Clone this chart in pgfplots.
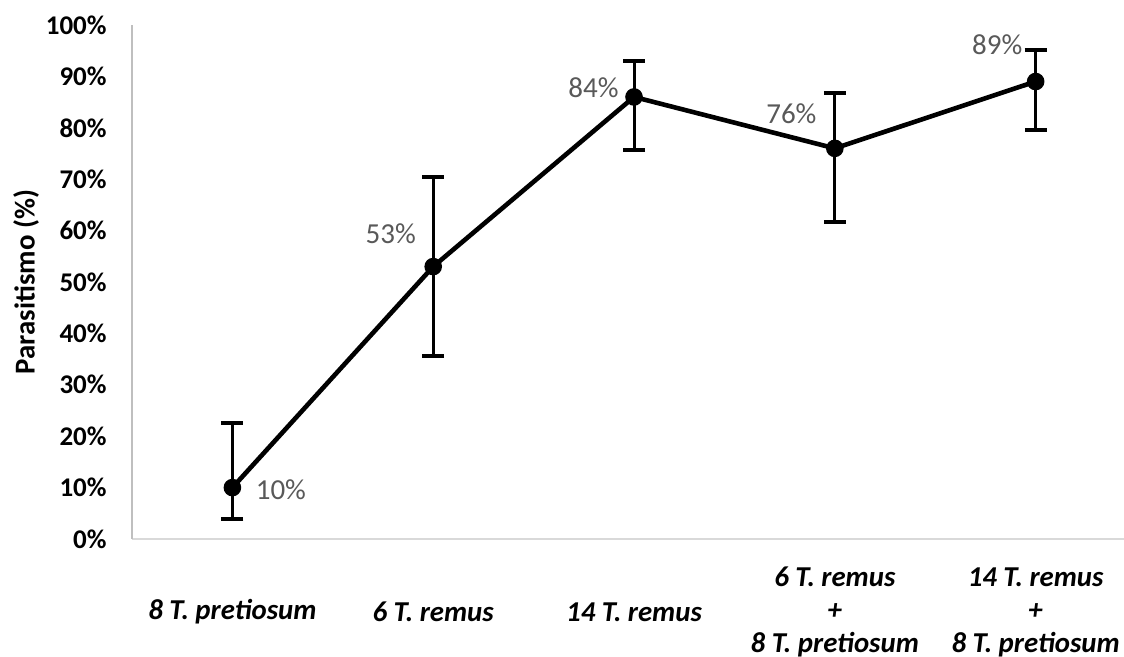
\documentclass[border=0pt]{standalone}
\usepackage{pgfplots}
\usepackage{pgfplotstable}
\pgfplotsset{compat=1.18}
\usepackage{fontspec}
\setmainfont{Carlito}
\definecolor{lbl}{HTML}{595959}
\definecolor{yax}{HTML}{BFBFBF}
\definecolor{xax}{HTML}{D9D9D9}
\pgfplotstableread{
x y ep em
0 10 12.6 6.2
1 53 17.5 17.4
2 86 6.9 10.3
3 76 10.7 14.3
4 89 6.1 9.4
}\data
\begin{document}
\begin{tikzpicture}
\begin{axis}[
  scale only axis, width=496pt, height=257pt,
  xmin=-0.5, xmax=4.44, ymin=0, ymax=100,
  axis x line=bottom, axis y line=left,
  x axis line style={-, draw=xax, line width=1pt},
  y axis line style={-, draw=yax, line width=1pt},
  major tick length=0pt,
  xtick={0,1,2,3,4},
  xticklabels={{8 T. pretiosum},{6 T. remus},{14 T. remus},{6 T. remus\\+\\8 T. pretiosum},{14 T. remus\\+\\8 T. pretiosum}},
  xticklabel style={font=\bfseries\itshape\fontsize{14.4}{16.5}\selectfont, align=center, anchor=center, yshift=-36.5pt},
  ytick={0,10,...,100},
  yticklabels={0\%,10\%,20\%,30\%,40\%,50\%,60\%,70\%,80\%,90\%,100\%},
  yticklabel style={font=\bfseries\fontsize{13.5}{15}\selectfont, anchor=east, inner sep=0pt, xshift=-12.5pt},
  ylabel={Parasitismo (\%)},
  ylabel style={font=\bfseries\fontsize{14.4}{16}\selectfont, at={(rel axis cs:0,0.5)}, anchor=center, yshift=53pt},
  clip=false,
]
\addplot[black, line width=2.3pt, mark=*, mark size=3.9pt, mark options={fill=black, solid, line width=1pt},
  error bars/.cd, y dir=both, y explicit,
  error bar style={line width=1.5pt, black},
  error mark options={rotate=90, line width=2pt, mark size=5.5pt, black}]
  table[x=x, y=y, y error plus=ep, y error minus=em] {\data};
\begin{scope}[every node/.style={font=\fontsize{14.5}{16}\selectfont, text=lbl, inner sep=0pt}]
\node[anchor=west, xshift=11.5pt, yshift=-1pt] at (axis cs:0,10) {10\%};
\node[anchor=east, xshift=-8.5pt, yshift=16.5pt] at (axis cs:1,53) {53\%};
\node[anchor=east, xshift=-7.5pt, yshift=4.5pt] at (axis cs:2,86) {84\%};
\node[anchor=east, xshift=-9pt, yshift=17.5pt] at (axis cs:3,76) {76\%};
\node[anchor=east, xshift=-6.5pt, yshift=18.5pt] at (axis cs:4,89) {89\%};
\end{scope}
\coordinate (bl) at (rel axis cs:0,0);
\coordinate (tr) at (rel axis cs:1,1);
\end{axis}
\pgfresetboundingbox
\path[use as bounding box] ([shift={(-66pt,-59pt)}]bl) rectangle ([shift={(0pt,12.5pt)}]tr);
\end{tikzpicture}
\end{document}
